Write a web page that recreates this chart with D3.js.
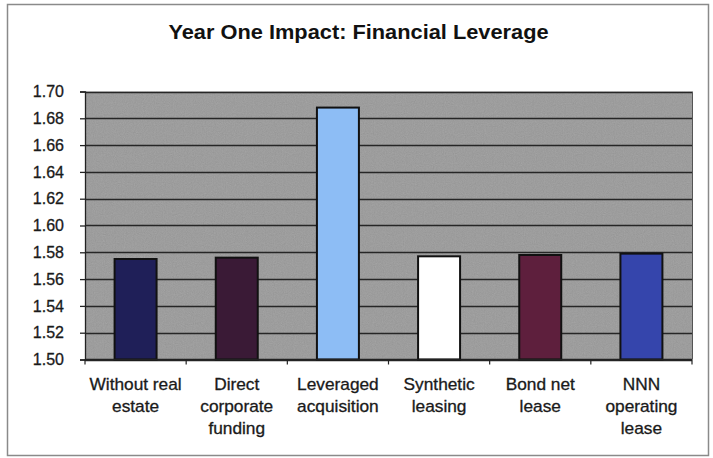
<!DOCTYPE html>
<html><head><meta charset="utf-8">
<script src="https://cdn.jsdelivr.net/npm/d3@7"></script>
<style>html,body{margin:0;padding:0;background:#fff;}svg{display:block;font-family:"Liberation Sans",Arial,sans-serif;}</style>
</head><body>
<script>
const categories = [["Without real","estate"],["Direct","corporate","funding"],["Leveraged","acquisition"],["Synthetic","leasing"],["Bond net","lease"],["NNN","operating","lease"]];
const values = [1.575, 1.576, 1.688, 1.577, 1.578, 1.579];
const barColors = ["#1f1f58","#3a1a36","#8dbdf5","#ffffff","#5e1f3d","#3545ac"];
const yTicks = [1.50,1.52,1.54,1.56,1.58,1.60,1.62,1.64,1.66,1.68,1.70];
const title = "Year One Impact: Financial Leverage";

const W = 713, H = 458;
const svg = d3.select("body").append("svg").attr("width", W).attr("height", H);
svg.append("rect").attr("x",0).attr("y",0).attr("width",W).attr("height",H).attr("fill","#fff");

// noise filter for plot background
const defs = svg.append("defs");
const f = defs.append("filter").attr("id","noise").attr("x",0).attr("y",0).attr("width","100%").attr("height","100%");
f.append("feTurbulence").attr("type","fractalNoise").attr("baseFrequency",0.9).attr("numOctaves",2).attr("seed",3).attr("result","t");
f.append("feColorMatrix").attr("in","t").attr("type","matrix")
 .attr("values","0 0 0 0 0.45  0 0 0 0 0.45  0 0 0 0 0.45  0.33 0.33 0.33 0 -0.3").attr("result","n");
f.append("feComposite").attr("in","n").attr("in2","SourceGraphic").attr("operator","atop");

// outer frame
svg.append("rect").attr("x",7.5).attr("y",4.5).attr("width",701).attr("height",451)
  .attr("fill","none").attr("stroke","#8a8a8a").attr("stroke-width",1.5);

const m = {left:85, right:692, top:91.5, bottom:359.5};
const x = d3.scaleBand().domain(d3.range(categories.length)).range([m.left, m.right]).paddingInner(0.585).paddingOuter(0.2925);
const y = d3.scaleLinear().domain([1.50,1.70]).range([m.bottom, m.top]);

// plot background
svg.append("rect").attr("x",m.left).attr("y",m.top).attr("width",m.right-m.left).attr("height",m.bottom-m.top)
  .attr("fill","#979797").attr("filter","url(#noise)");

// gridlines
svg.append("g").selectAll("line").data(yTicks).join("line")
  .attr("x1",m.left).attr("x2",m.right).attr("y1",d=>Math.round(y(d))+0.5).attr("y2",d=>Math.round(y(d))+0.5)
  .attr("stroke","#262626").attr("stroke-width",1.4);
svg.append("line").attr("x1",m.right+0.5).attr("x2",m.right+0.5).attr("y1",m.top).attr("y2",m.bottom).attr("stroke","#555").attr("stroke-width",1);

// y axis
const yAxis = d3.axisLeft(y).tickValues(yTicks).tickFormat(d3.format(".2f")).tickSize(5).tickPadding(16);
const gy = svg.append("g").attr("transform",`translate(${m.left},0)`).call(yAxis);
gy.select(".domain").attr("stroke","#222").attr("stroke-width",1.3);
gy.selectAll(".tick line").attr("stroke","#222").attr("stroke-width",1.3);
gy.selectAll(".tick text").attr("font-size","16px").attr("fill","#1a1a1a")
  .attr("stroke","#1a1a1a").attr("stroke-width",0.3).attr("font-family","Liberation Sans, Arial, sans-serif");

// bars
svg.append("g").selectAll("rect").data(values).join("rect")
  .attr("x",(d,i)=>x(i)).attr("width",x.bandwidth())
  .attr("y",d=>y(d)).attr("height",d=>y(1.50)-y(d))
  .attr("fill",(d,i)=>barColors[i]).attr("stroke","#111").attr("stroke-width",2);

// x axis baseline & ticks
const step = x.step();
const xb = svg.append("g");
xb.append("line").attr("x1",m.left).attr("x2",m.right).attr("y1",m.bottom).attr("y2",m.bottom).attr("stroke","#222").attr("stroke-width",1.3);
xb.selectAll("line.t").data(d3.range(categories.length+1)).join("line").attr("class","t")
  .attr("x1",i=>m.left+i*step).attr("x2",i=>m.left+i*step).attr("y1",m.bottom).attr("y2",m.bottom+5)
  .attr("stroke","#222").attr("stroke-width",1.2);

// category labels
categories.forEach((lines,i)=>{
  const cx = x(i)+x.bandwidth()/2;
  lines.forEach((ln,j)=>{
    svg.append("text").attr("transform",`translate(${cx},${389.5+j*22}) scale(1.08,1)`)
      .attr("text-anchor","middle").attr("font-size","16px").attr("fill","#1a1a1a")
      .attr("stroke","#1a1a1a").attr("stroke-width",0.3).text(ln);
  });
});

// title
svg.append("text").attr("transform",`translate(358.5,38.5) scale(1.09,1)`).attr("text-anchor","middle")
  .attr("font-size","20px").attr("font-weight","bold").attr("fill","#111").text(title);
</script>
</body></html>
